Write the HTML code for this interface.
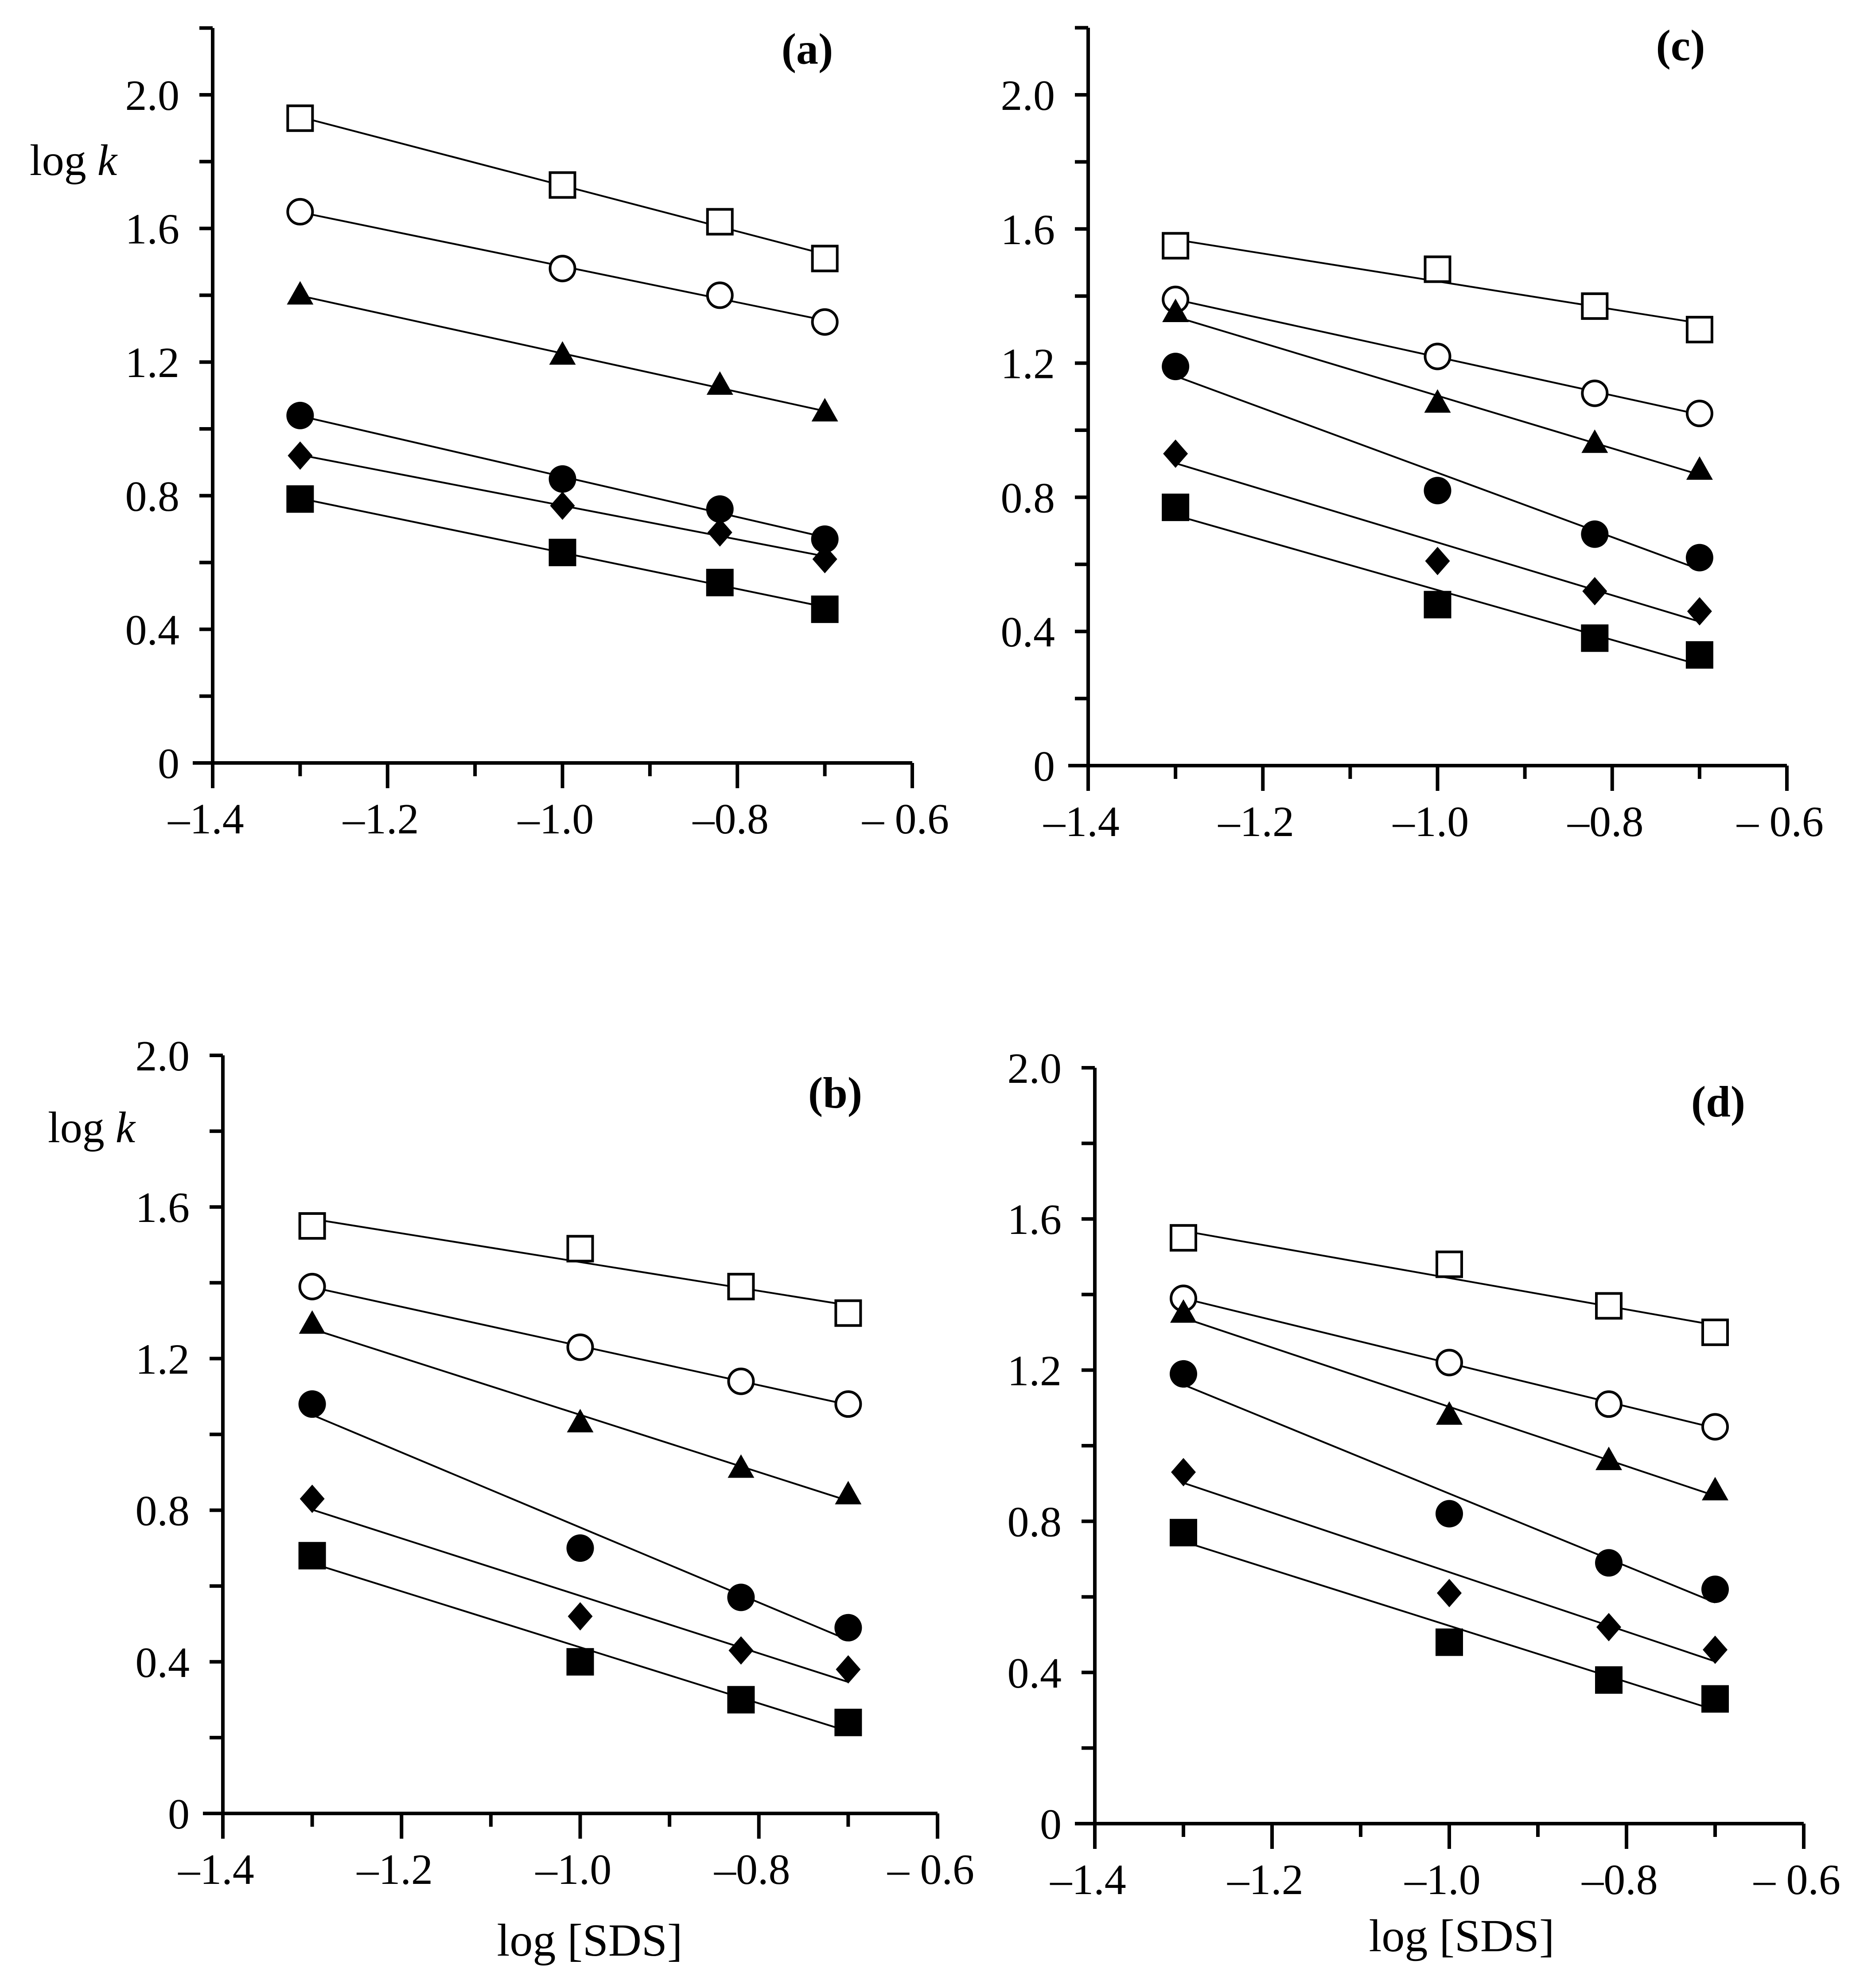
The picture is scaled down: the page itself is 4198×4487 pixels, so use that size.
<!DOCTYPE html>
<html><head><meta charset="utf-8">
<style>
html,body{margin:0;padding:0;background:#fff;}
svg{display:block;}
text{font-family:"Liberation Serif",serif;fill:#000;}
</style></head>
<body>
<svg id="chart" xmlns="http://www.w3.org/2000/svg" width="4198" height="4487" viewBox="0 0 4198 4487"></svg>
<script>
const xValues = [-1.3, -1.0, -0.82, -0.7];
const seriesNames = ['open-square','open-circle','filled-triangle','filled-circle','filled-diamond','filled-square'];
const panelAValues = [
  [1.93,1.73,1.62,1.51],[1.65,1.48,1.40,1.32],[1.40,1.22,1.13,1.05],
  [1.04,0.85,0.76,0.67],[0.92,0.77,0.69,0.61],[0.79,0.63,0.54,0.46]];
const panelBValues = [
  [1.55,1.49,1.39,1.32],[1.39,1.23,1.14,1.08],[1.29,1.03,0.91,0.84],
  [1.08,0.70,0.57,0.49],[0.83,0.52,0.43,0.38],[0.68,0.40,0.30,0.24]];
const panelCValues = [
  [1.55,1.48,1.37,1.30],[1.39,1.22,1.11,1.05],[1.35,1.08,0.96,0.88],
  [1.19,0.82,0.69,0.62],[0.93,0.61,0.52,0.46],[0.77,0.48,0.38,0.33]];
const panelDValues = [
  [1.55,1.48,1.37,1.30],[1.39,1.22,1.11,1.05],[1.35,1.08,0.96,0.88],
  [1.19,0.82,0.69,0.62],[0.93,0.61,0.52,0.46],[0.77,0.48,0.38,0.33]];
const xTickLabels = ['\u20131.4','\u20131.2','\u20131.0','\u20130.8','\u2013 0.6'];
const yTickLabels = ['0','0.4','0.8','1.2','1.6','2.0'];

const NS='http://www.w3.org/2000/svg';
const svg=document.getElementById('chart');
function mk(tag,attrs,parent){const e=document.createElementNS(NS,tag);for(const k in attrs)e.setAttribute(k,attrs[k]);(parent||svg).appendChild(e);return e;}

const panels=[
 {id:'a',vals:panelAValues,x0:480,x1:2059,y0:1722,y2:214,ymax:2.2,lbl:[1822,144],logk:[67,395],sds:null},
 {id:'c',vals:panelCValues,x0:2456,x1:4033,y0:1728,y2:214,ymax:2.2,lbl:[3793,136],logk:null,sds:null},
 {id:'b',vals:panelBValues,x0:503,x1:2116,y0:4093,y2:2382,ymax:2.0,lbl:[1885,2500],logk:[108,2578],sds:[1331,4414]},
 {id:'d',vals:panelDValues,x0:2471,x1:4071,y0:4116,y2:2410,ymax:2.0,lbl:[3878,2520],logk:null,sds:[3299,4404]}
];

panels.forEach(p=>{
  const g=mk('g',{});
  
  
  const X=v=>p.x0+(v+1.4)/0.8*(p.x1-p.x0);
  const Y=v=>p.y0-v/2*(p.y0-p.y2);
  const ax=mk('path',{d:`M${p.x0} ${Y(p.ymax)} L${p.x0} ${p.y0} M${p.x0-45} ${p.y0} L${p.x1} ${p.y0}`,fill:'none',stroke:'#000','stroke-width':8},g);
  
  
  for(let i=0;i<=8;i++){
    const v=-1.4+i*0.1, major=i%2===0;
    mk('line',{x1:X(v),x2:X(v),y1:p.y0,y2:p.y0+(major?57:30),stroke:'#000','stroke-width':8},g);
  }
  xTickLabels.forEach((t,i)=>{
    const tx=mk('text',{x:X(-1.4+i*0.2)-15,y:p.y0+159,'font-size':98,'text-anchor':'middle'},g);
    tx.textContent=t;
    
    
  });
  for(let v=0;v<=p.ymax+1e-6;v+=0.2){
    mk('line',{x1:p.x0-30,x2:p.x0,y1:Y(v),y2:Y(v),stroke:'#000','stroke-width':8},g);
  }
  yTickLabels.forEach((t,i)=>{
    const tx=mk('text',{x:p.x0-75,y:Y(i*0.4)+34,'font-size':98,'text-anchor':'end'},g);
    tx.textContent=t;
    
    
  });
  const pl=mk('text',{x:p.lbl[0],y:p.lbl[1],'font-size':100,'font-weight':'bold','text-anchor':'middle'},g);
  pl.textContent='('+p.id+')';
  
  
  if(p.logk){
    const lk=mk('text',{x:p.logk[0],y:p.logk[1],'font-size':100},g);
    lk.innerHTML='log <tspan font-style="italic">k</tspan>';
    
    
  }
  if(p.sds){
    const st=mk('text',{x:p.sds[0],y:p.sds[1],'font-size':104,'text-anchor':'middle'},g);
    st.textContent='log [SDS]';
    
    
  }
  p.vals.forEach((ys,si)=>{
    const n=xValues.length;
    let sx=0,sy=0,sxx=0,sxy=0;
    for(let i=0;i<n;i++){sx+=xValues[i];sy+=ys[i];sxx+=xValues[i]*xValues[i];sxy+=xValues[i]*ys[i];}
    const b=(n*sxy-sx*sy)/(n*sxx-sx*sx), a=(sy-b*sx)/n;
    const xa=xValues[0], xb=xValues[n-1];
    const ln=mk('line',{x1:X(xa),y1:Y(a+b*xa),x2:X(xb),y2:Y(a+b*xb),stroke:'#000','stroke-width':4},g);
    
    
    ys.forEach((v,i)=>{
      const cx=X(xValues[i]), cy=Y(v);
      let m;
      const s=seriesNames[si];
      if(s==='open-square') m=mk('rect',{x:cx-28,y:cy-28,width:56,height:56,fill:'#fff',stroke:'#000','stroke-width':6},g);
      else if(s==='open-circle') m=mk('circle',{cx:cx,cy:cy,r:28,fill:'#fff',stroke:'#000','stroke-width':6},g);
      else if(s==='filled-triangle') m=mk('polygon',{points:`${cx},${cy-32} ${cx-30},${cy+21} ${cx+30},${cy+21}`,fill:'#000'},g);
      else if(s==='filled-circle') m=mk('circle',{cx:cx,cy:cy,r:31,fill:'#000'},g);
      else if(s==='filled-diamond') m=mk('polygon',{points:`${cx},${cy-32} ${cx+28},${cy} ${cx},${cy+32} ${cx-28},${cy}`,fill:'#000'},g);
      else m=mk('rect',{x:cx-31,y:cy-31,width:62,height:62,fill:'#000'},g);
      
      
    });
  });
});
</script>
</body></html>
